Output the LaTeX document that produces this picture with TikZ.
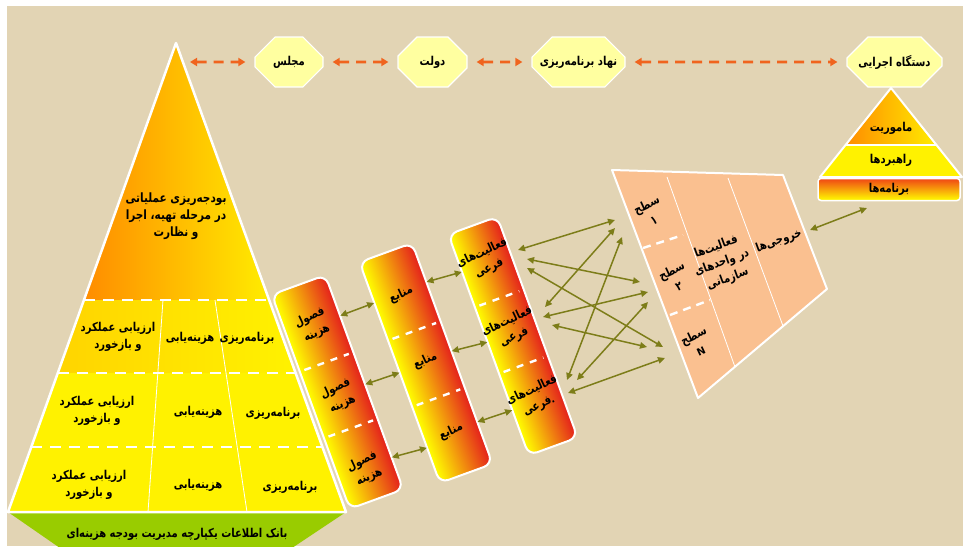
\documentclass[tikz,border=0pt]{standalone}
\usepackage{graphicx}
\usepackage{fontspec}
\usetikzlibrary{shapes.misc,arrows.meta,calc}
\newfontfamily\arabicfont[Script=Arabic]{DejaVu Sans}
\TeXXeTstate=1
% one right-to-left line, set a little taller than the font's natural shape
\newcommand{\pers}[1]{\scalebox{1}[1.22]{\beginR #1\endR}}

\definecolor{paper}{RGB}{226,212,180}
\definecolor{boxyellow}{RGB}{255,255,160}
\definecolor{dashorange}{RGB}{240,100,30}
\definecolor{pyrorange}{RGB}{255,140,0}
\definecolor{pyryellow}{RGB}{255,236,0}
\definecolor{rowyellow}{RGB}{255,242,0}
\definecolor{rowgold}{RGB}{255,212,0}
\definecolor{colred}{RGB}{228,32,28}
\definecolor{barred}{RGB}{240,70,20}
\definecolor{linkolive}{RGB}{125,125,25}
\definecolor{bankgreen}{RGB}{153,204,0}
\definecolor{peach}{RGB}{250,192,144}

\begin{document}
\begin{tikzpicture}[x=1pt,y=-1pt,
  fa/.style={font=\arabicfont\bfseries\fontsize{10}{17}\selectfont, align=center, inner sep=0pt, text=black},
  fabig/.style={fa, font=\arabicfont\bfseries\fontsize{10.5}{17}\selectfont},
  topbox/.style={chamfered rectangle, chamfered rectangle xsep=14pt, chamfered rectangle ysep=14pt,
    inner xsep=0pt, inner ysep=0pt, minimum height=50pt, fill=boxyellow, draw=white, line width=1.2pt, fa},
  link/.style={draw=dashorange, line width=2.6pt, dash pattern=on 10pt off 7pt,
    {Triangle[length=7pt,width=8pt]}-{Triangle[length=7pt,width=8pt]}, shorten <=9pt, shorten >=9pt},
  twoway/.style={draw=linkolive, line width=1.5pt,
    {Triangle[length=7pt,width=6.5pt]}-{Triangle[length=7pt,width=6.5pt]}},
  column/.style={rectangle, rotate=20, inner sep=0pt},
  colbody/.style={left color=yellow, right color=colred, draw=white, line width=2pt, rounded corners=9pt},
  coltext/.style={fa, rotate=25},
  whitedash/.style={draw=white, line width=2.4pt, dash pattern=on 11pt off 8pt},
  coldash/.style={draw=white, line width=2.4pt, dash pattern=on 7pt off 7pt, shorten <=5pt, shorten >=5pt},
  thinwhite/.style={draw=white, line width=0.8pt},
]
\useasboundingbox (0,0) rectangle (963,546);
% parchment background
\fill[white] (0,0) rectangle (963,546);
\fill[paper] (7,6) rectangle (963,546);

% ---------- top row of institutions ----------
\node[topbox, minimum width=68pt] (majles) at (289,62) {\pers{مجلس}};
\node[topbox, minimum width=69pt] (dolat) at (432.5,62) {\pers{دولت}};
\node[topbox, minimum width=93pt] (nahad) at (578.5,62) {\pers{نهاد برنامه‌ریزی}};
\node[topbox, minimum width=95pt] (dastgah) at (894.5,62) {\pers{دستگاه اجرایی}};
\coordinate (apexR) at (190,62);
\draw[link, shorten <=0pt] (apexR) -- (majles);
\draw[link] (majles) -- (dolat);
\draw[link] (dolat) -- (nahad);
\draw[link] (nahad) -- (dastgah);

% ---------- big pyramid ----------
\coordinate (pA) at (176,43);
\coordinate (pBL) at (8,512);
\coordinate (pBR) at (346,512);
\coordinate (r1L) at ($(pA)!{257/469}!(pBL)$);
\coordinate (r1R) at ($(pA)!{257/469}!(pBR)$);
\coordinate (r2L) at ($(pA)!{330/469}!(pBL)$);
\coordinate (r2R) at ($(pA)!{330/469}!(pBR)$);
\coordinate (r3L) at ($(pA)!{404/469}!(pBL)$);
\coordinate (r3R) at ($(pA)!{404/469}!(pBR)$);

% green information bank under the pyramid
\fill[bankgreen] (8,512) -- (346,512) -- (292,548) -- (60,548) -- cycle;
\node[fa] (bank) at (177,534) {\pers{بانک اطلاعات یکپارچه مدیریت بودجه هزینه‌ای}};

\shade[left color=pyrorange, right color=pyryellow] (pA) -- (r1R) -- (r1L) -- cycle;
\shade[left color=rowgold, right color=rowyellow] (r1L) -- (r1R) -- (r2R) -- (r2L) -- cycle;
\fill[rowyellow] (r2L) -- (r2R) -- (pBR) -- (pBL) -- cycle;
\draw[thinwhite] (163,300) -- (148,512);
\draw[thinwhite] (215,300) -- (247,512);
\draw[whitedash] (r1L) -- (r1R);
\draw[whitedash] (r2L) -- (r2R);
\draw[whitedash] (r3L) -- (r3R);
\draw[white, line width=2.5pt, line join=round] (pA) -- (pBR) -- (pBL) -- cycle;

\node[fabig] (goal) at (176,216) {\pers{بودجه‌ریزی عملیاتی}\\\pers{در مرحله تهیه، اجرا}\\\pers{و نظارت}};
\node[fa] (g11) at (247,338) {\pers{برنامه‌ریزی}};
\node[fa] (g12) at (190,338) {\pers{هزینه‌یابی}};
\node[fa] (g13) at (118,337) {\pers{ارزیابی عملکرد}\\\pers{و بازخورد}};
\node[fa] (g21) at (273,413) {\pers{برنامه‌ریزی}};
\node[fa] (g22) at (198,412) {\pers{هزینه‌یابی}};
\node[fa] (g23) at (97,411) {\pers{ارزیابی عملکرد}\\\pers{و بازخورد}};
\node[fa] (g31) at (290,487) {\pers{برنامه‌ریزی}};
\node[fa] (g32) at (198,485) {\pers{هزینه‌یابی}};
\node[fa] (g33) at (89,485) {\pers{ارزیابی عملکرد}\\\pers{و بازخورد}};

% ---------- slanted columns ----------
\node[column, minimum width=57pt, minimum height=228pt] (c1) at (337.5,392) {};
\node[column, minimum width=56pt, minimum height=235pt] (c2) at (426,363) {};
\node[column, minimum width=52pt, minimum height=235pt] (c3) at (513,336) {};
% each body is drawn in its own tilted frame, so the colour runs across its width
\foreach \c/\w/\h in {c1/57/228, c2/56/235, c3/52/235}{
  \begin{scope}[transform canvas={shift={(\c.center)}, rotate=20}]
    \shade[colbody] (-\w/2,-\h/2) rectangle (\w/2,\h/2);
  \end{scope}
}

\foreach \c/\a/\b in {c1/0.36/0.67, c2/0.355/0.655, c3/0.33/0.63}{
  \draw[coldash] ($(\c.north west)!\a!(\c.south west)$) -- ($(\c.north east)!\a!(\c.south east)$);
  \draw[coldash] ($(\c.north west)!\b!(\c.south west)$) -- ($(\c.north east)!\b!(\c.south east)$);
}

\node[coltext] (c1a) at ($(c1.north)!0.19!(c1.south)$) {\pers{فصول}\\\pers{هزینه}};
\node[coltext] (c1b) at ($(c1.north)!0.52!(c1.south)$) {\pers{فصول}\\\pers{هزینه}};
\node[coltext] (c1c) at ($(c1.north)!0.86!(c1.south)$) {\pers{فصول}\\\pers{هزینه}};
\node[coltext] (c2a) at ($(c2.north)!0.19!(c2.south)$) {\pers{منابع}};
\node[coltext] (c2b) at ($(c2.north)!0.49!(c2.south)$) {\pers{منابع}};
\node[coltext] (c2c) at ($(c2.north)!0.81!(c2.south)$) {\pers{منابع}};
\node[coltext] (c3a) at ($(c3.north)!0.16!(c3.south)$) {\pers{فعالیت‌های}\\\pers{فرعی}};
\node[coltext] (c3b) at ($(c3.north)!0.47!(c3.south)$) {\pers{فعالیت‌های}\\\pers{فرعی}};
\node[coltext] (c3c) at ($(c3.north)!0.78!(c3.south)$) {\pers{فعالیت‌های}\\\pers{فرعی}.};

% links between neighbouring columns
\draw[twoway] ($(c1.north east)!0.19!(c1.south east)$) -- ($(c2.north west)!0.185!(c2.south west)$);
\draw[twoway] ($(c1.north east)!0.51!(c1.south east)$) -- ($(c2.north west)!0.50!(c2.south west)$);
\draw[twoway] ($(c1.north east)!0.85!(c1.south east)$) -- ($(c2.north west)!0.84!(c2.south west)$);
\draw[twoway] ($(c2.north east)!0.177!(c2.south east)$) -- ($(c3.north west)!0.17!(c3.south west)$);
\draw[twoway] ($(c2.north east)!0.49!(c2.south east)$) -- ($(c3.north west)!0.487!(c3.south west)$);
\draw[twoway] ($(c2.north east)!0.81!(c2.south east)$) -- ($(c3.north west)!0.795!(c3.south west)$);

% ---------- organisational levels ----------
\coordinate (lvTL) at (612,170);
\coordinate (lvTR) at (783,175);
\coordinate (lvR) at (827,289);
\coordinate (lvB) at (698,398);
\fill[peach] (lvTL) -- (lvTR) -- (lvR) -- (lvB) -- cycle;
\draw[thinwhite] (667,177) -- (735,367);
\draw[thinwhite] (728,178) -- (783,326);
\draw[draw=white, line width=2.4pt, dash pattern=on 8pt off 6pt] (643,248) -- (683,235);
\draw[draw=white, line width=2.4pt, dash pattern=on 8pt off 6pt] (670,315) -- (710,300);
\draw[white, line width=2pt, line join=round] (lvTL) -- (lvTR) -- (lvR) -- (lvB) -- cycle;

\node[fa, rotate=25] (lv1) at (650,212) {\pers{سطح}\\\pers{۱}};
\node[fa, rotate=25] (lv2) at (675,278) {\pers{سطح}\\\pers{۲}};
\node[fa, rotate=25] (lvN) at (697,343) {\pers{سطح}\\N};
\node[fa, rotate=20] (lvAct) at (722,263) {\pers{فعالیت‌ها}\\\pers{در واحدهای}\\\pers{سازمانی}};
\node[fa, rotate=20] (lvOut) at (779,241) {\pers{خروجی‌ها}};

% crossing links from the sub-activities to the levels
\coordinate (s1) at (518,250); \coordinate (t1) at (615,220);
\coordinate (s2) at (527,259); \coordinate (t2) at (640,282);
\coordinate (s3) at (527,268); \coordinate (t3) at (663,347);
\coordinate (s4) at (545,307); \coordinate (t4) at (615,228);
\coordinate (s5) at (543,317); \coordinate (t5) at (648,292);
\coordinate (s6) at (552,325); \coordinate (t6) at (647,347);
\coordinate (s7) at (567,380); \coordinate (t7) at (622,237);
\coordinate (s8) at (577,380); \coordinate (t8) at (648,302);
\coordinate (s9) at (568,393); \coordinate (t9) at (665,358);
\foreach \i in {1,...,9}{\draw[twoway] (s\i) -- (t\i);}

% ---------- small pyramid of the executive body ----------
\coordinate (sA) at (891,88);
\coordinate (sBL) at (820,177);
\coordinate (sBR) at (962,177);
\coordinate (sML) at ($(sA)!{57/89}!(sBL)$);
\coordinate (sMR) at ($(sA)!{57/89}!(sBR)$);
\shade[left color=pyrorange, right color=pyryellow] (sA) -- (sMR) -- (sML) -- cycle;
\fill[rowyellow] (sML) -- (sMR) -- (sBR) -- (sBL) -- cycle;
\draw[white, line width=1.5pt] (sML) -- (sMR);
\draw[white, line width=2pt, line join=round] (sA) -- (sBR) -- (sBL) -- cycle;
\node[fa] (mission) at (891,128) {\pers{ماموریت}};
\node[fa] (strategy) at (891,160) {\pers{راهبردها}};
\node[rectangle, rounded corners=3pt, draw=white, line width=1.5pt, minimum width=142pt, minimum height=22pt,
  top color=barred, bottom color=yellow, fa] (programs) at (889,189.5) {\pers{برنامه‌ها}};

\coordinate (outA) at (810,230);
\coordinate (outB) at (867,208);
\draw[twoway] (outA) -- (outB);
\end{tikzpicture}
\end{document}
